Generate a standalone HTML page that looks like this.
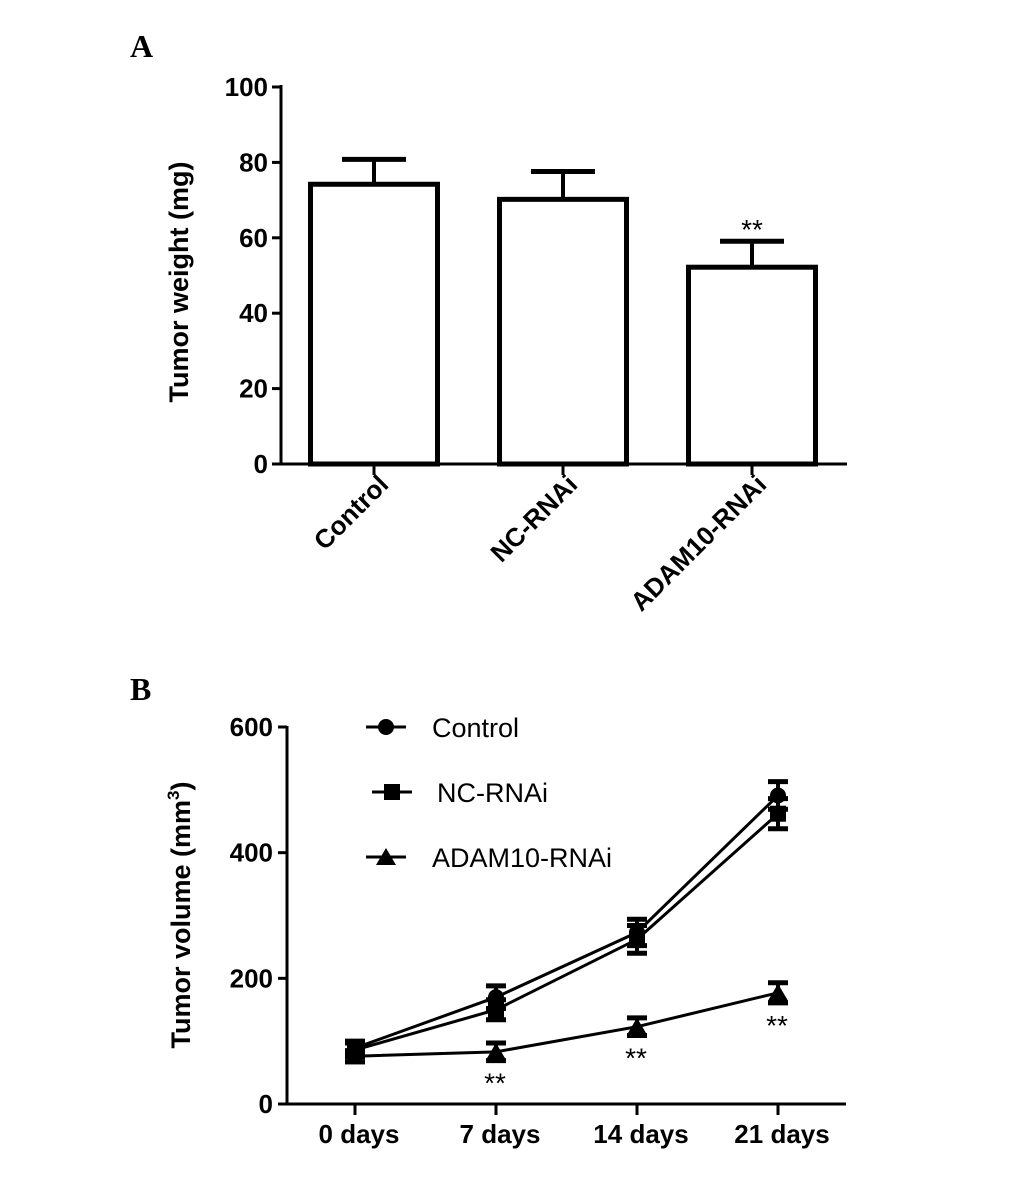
<!DOCTYPE html>
<html><head><meta charset="utf-8"><style>
html,body{margin:0;padding:0;background:#fff;}
svg{display:block;}
text{font-family:"Liberation Sans",Arial,sans-serif;fill:#000;}
.b{font-weight:bold;}
</style></head><body>
<svg id="s" width="1033" height="1188" viewBox="0 0 1033 1188" xmlns="http://www.w3.org/2000/svg">
<text x="130" y="57" font-size="32" font-weight="bold" style="font-family:'Liberation Serif',serif">A</text>
<text x="130" y="700" font-size="32" font-weight="bold" style="font-family:'Liberation Serif',serif">B</text>
<g id="ga"></g>
<g id="gb"></g>
</svg>
<script>
// Panel A data
const catsA = ["Control","NC-RNAi","ADAM10-RNAi"];
const meansA = [74.2, 70.2, 52.2];
const errsA = [6.6, 7.4, 6.9];
const sigA = ["","","**"];
const ticksA = [0,20,40,60,80,100];
// Panel B data
const catsB = ["0 days","7 days","14 days","21 days"];
const seriesNames = ["Control","NC-RNAi","ADAM10-RNAi"];
const ctrlVals = [89, 170, 273, 491];
const ctrlErrs = [11, 18, 21, 22];
const ncVals = [86, 150, 262, 462];
const ncErrs = [11, 16, 22, 24];
const adamVals = [76, 83, 123, 177];
const adamErrs = [9, 14, 14, 16];
const sigB = ["","**","**","**"];
const ticksB = [0,200,400,600];

const NS="http://www.w3.org/2000/svg";
function mk(parent,tag,attrs,txt){const e=document.createElementNS(NS,tag);for(const k in attrs)e.setAttribute(k,attrs[k]);if(txt!==undefined)e.textContent=txt;parent.appendChild(e);return e;}

// ---------- Panel A ----------
const ga=document.getElementById('ga');
const yA=v=>464-(v/100)*377;
const xA=i=>374+i*189;
const bw=127;
let ax=mk(ga,'line',{x1:281,y1:85,x2:281,y2:465.5,stroke:'#000','stroke-width':3});


ax=mk(ga,'line',{x1:281,y1:464,x2:847,y2:464,stroke:'#000','stroke-width':3});


ticksA.forEach(t=>{
  mk(ga,'line',{x1:272,y1:yA(t),x2:281,y2:yA(t),stroke:'#000','stroke-width':3});
  const tl=mk(ga,'text',{x:268,y:yA(t)+9,'text-anchor':'end','font-size':26,class:'b'},t);
  
  
});
const yt=mk(ga,'text',{x:0,y:0,transform:'translate(188,282) rotate(-90)','text-anchor':'middle','font-size':27,class:'b'},'Tumor weight (mg)');


catsA.forEach((c,i)=>{
  const cx=xA(i);
  const r=mk(ga,'rect',{x:cx-bw/2,y:yA(meansA[i]),width:bw,height:464-yA(meansA[i]),fill:'#fff',stroke:'#000','stroke-width':5});
  
  
  mk(ga,'line',{x1:cx,y1:yA(meansA[i]),x2:cx,y2:yA(meansA[i]+errsA[i]),stroke:'#000','stroke-width':4});
  const eb=mk(ga,'line',{x1:cx-32,y1:yA(meansA[i]+errsA[i]),x2:cx+32,y2:yA(meansA[i]+errsA[i]),stroke:'#000','stroke-width':5});
  
  
  mk(ga,'line',{x1:cx,y1:464,x2:cx,y2:475,stroke:'#000','stroke-width':3});
  const lab=mk(ga,'text',{x:0,y:0,transform:`translate(${cx+16},${486}) rotate(-45)`,'text-anchor':'end','font-size':26,class:'b'},c);
  
  
  if(sigA[i]){const s=mk(ga,'text',{x:cx,y:yA(meansA[i]+errsA[i])-2,'text-anchor':'middle','font-size':28},sigA[i]);
    
    }
});

// ---------- Panel B ----------
const gb=document.getElementById('gb');
const yB=v=>1104-(v/600)*377;
const xB=i=>355+i*141;
ax=mk(gb,'line',{x1:287,y1:726,x2:287,y2:1105.5,stroke:'#000','stroke-width':3});


ax=mk(gb,'line',{x1:287,y1:1104,x2:846,y2:1104,stroke:'#000','stroke-width':3});


ticksB.forEach(t=>{
  mk(gb,'line',{x1:278,y1:yB(t),x2:287,y2:yB(t),stroke:'#000','stroke-width':3});
  const tl=mk(gb,'text',{x:273,y:yB(t)+9,'text-anchor':'end','font-size':26,class:'b'},t);
  
  
});
const yt2=mk(gb,'text',{x:0,y:0,transform:'translate(190,915) rotate(-90)','text-anchor':'middle','font-size':27,class:'b'});


mk(yt2,'tspan',{},'Tumor volume (mm');
mk(yt2,'tspan',{dy:-11,'font-size':17},'3');
mk(yt2,'tspan',{dy:11},')');
catsB.forEach((c,i)=>{
  mk(gb,'line',{x1:xB(i),y1:1104,x2:xB(i),y2:1115,stroke:'#000','stroke-width':3});
  const l=mk(gb,'text',{x:xB(i)+4,y:1143,'text-anchor':'middle','font-size':26,class:'b'},c);
  
  
});
function marker(g,type,x,y){
  if(type===0) return mk(g,'circle',{cx:x,cy:y,r:8,fill:'#000'});
  if(type===1) return mk(g,'rect',{x:x-8,y:y-8,width:16,height:16,fill:'#000'});
  return mk(g,'polygon',{points:`${x},${y-9} ${x+10},${y+8} ${x-10},${y+8}`,fill:'#000'});
}
const allVals=[ctrlVals,ncVals,adamVals], allErrs=[ctrlErrs,ncErrs,adamErrs];
allVals.forEach((vals,s)=>{
  const g=mk(gb,'g',{});
  
  
  const pts=vals.map((v,i)=>xB(i)+','+yB(v)).join(' ');
  mk(g,'polyline',{points:pts,fill:'none',stroke:'#000','stroke-width':3});
  vals.forEach((v,i)=>{
    const e=allErrs[s][i], x=xB(i);
    mk(g,'line',{x1:x,y1:yB(v-e),x2:x,y2:yB(v+e),stroke:'#000','stroke-width':4});
    mk(g,'line',{x1:x-10,y1:yB(v-e),x2:x+10,y2:yB(v-e),stroke:'#000','stroke-width':5});
    mk(g,'line',{x1:x-10,y1:yB(v+e),x2:x+10,y2:yB(v+e),stroke:'#000','stroke-width':5});
    const m=marker(g,s,x,yB(v));
    
    
  });
});
sigB.forEach((s,i)=>{ if(s){
  const t=mk(gb,'text',{x:xB(i)-1,y:yB(adamVals[i]-adamErrs[i])+32,'text-anchor':'middle','font-size':28},s);
  
  
}});
// legend
const legY=[727,792,857], legX=[366,372,366], txtX=[432,437,432];
seriesNames.forEach((n,s)=>{
  const g=mk(gb,'g',{});
  
  
  mk(g,'line',{x1:legX[s],y1:legY[s],x2:legX[s]+40,y2:legY[s],stroke:'#000','stroke-width':3});
  marker(g,s,legX[s]+20,legY[s]);
  mk(g,'text',{x:txtX[s],y:legY[s]+10,'font-size':27},n);
});
</script>
</body></html>
